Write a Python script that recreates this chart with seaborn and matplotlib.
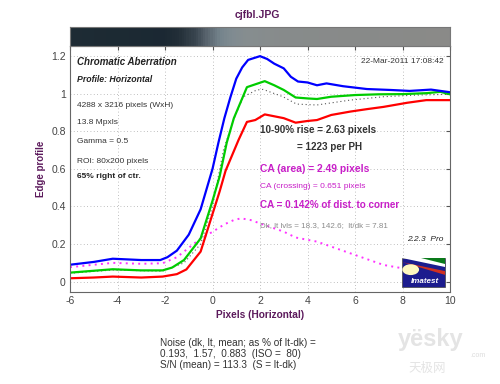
import numpy as np
import matplotlib
matplotlib.use('Agg')
import matplotlib.pyplot as plt
from matplotlib.colors import to_rgb
from matplotlib.patches import Rectangle, Polygon, Circle
import seaborn as sns

# edge profiles (pixels vs normalised level)
blue_x = [-6, -5, -4.2, -3, -2.2, -1.9, -1.5, -1.0, -0.5, 0, 0.25, 0.5, 0.75, 1.0, 1.25,
          1.5, 2.0, 2.3, 2.6, 3.0, 3.3, 3.6, 4.0, 4.4, 4.8, 5.5, 6.5, 7.5, 8.3, 9.2, 10]
blue_y = [0.09, 0.105, 0.122, 0.115, 0.115, 0.13, 0.165, 0.25, 0.385, 0.6, 0.74, 0.87, 0.98,
          1.08, 1.14, 1.18, 1.20, 1.185, 1.16, 1.135, 1.09, 1.065, 1.06, 1.045, 1.055, 1.04,
          1.025, 1.02, 1.015, 1.022, 1.008]

green_x = [-6, -5, -4.2, -3, -2.1, -1.7, -1.2, -0.5, 0, 0.3, 0.6, 0.9, 1.1, 1.45, 1.8, 2.2,
           2.6, 3.0, 3.5, 4.0, 4.4, 5.0, 6.0, 7.0, 8.0, 9.0, 9.6, 10]
green_y = [0.048, 0.058, 0.066, 0.06, 0.06, 0.075, 0.115, 0.23, 0.43, 0.56, 0.74, 0.87, 0.93,
           1.035, 1.05, 1.067, 1.045, 1.02, 0.98, 0.975, 0.972, 0.984, 0.993, 0.997, 0.998,
           1.003, 1.01, 0.997]

red_x = [-6, -5, -4.2, -3, -2.1, -1.5, -1.1, -0.5, 0, 0.3, 0.55, 0.75, 1.1, 1.45, 1.8, 2.2,
         2.6, 3.0, 3.5, 4.0, 4.4, 5.0, 5.8, 6.5, 7.2, 8.2, 9.0, 10]
red_y = [0.018, 0.022, 0.027, 0.022, 0.027, 0.04, 0.065, 0.16, 0.36, 0.48, 0.59, 0.65, 0.755,
         0.85, 0.86, 0.89, 0.88, 0.87, 0.846, 0.855, 0.86, 0.887, 0.905, 0.918, 0.93, 0.952,
         0.966, 0.966]

lum_x = [-6, -4.2, -2.1, -1.2, -0.5, 0, 0.46, 0.88, 1.3, 1.86, 2.13, 2.97, 3.54, 4.39, 5.79,
         7.19, 8.6, 10]
lum_y = [0.045, 0.062, 0.056, 0.1, 0.2, 0.4, 0.7, 0.86, 0.984, 1.02, 1.023, 0.984, 0.945,
         0.94, 0.966, 0.984, 0.993, 0.997]

ca_x = [-6, -5, -4.2, -3, -2.1, -1.5, -1.0, -0.5, 0, 0.5, 0.9, 1.2, 1.6, 2.0, 3.0, 3.5, 4.4,
        5.8, 7.2, 8.5, 9.86]
ca_y = [0.077, 0.09, 0.1, 0.095, 0.098, 0.13, 0.18, 0.23, 0.265, 0.305, 0.328, 0.337, 0.328,
        0.31, 0.266, 0.235, 0.213, 0.151, 0.089, 0.06, 0.045]

# image strip above the plot
strip_x = [-6, -4, -2, -1.4, -0.7, -0.3, 0.3, 0.8, 1.5, 3, 6, 10]
strip_c = ['#1e2b34', '#1c2a33', '#1b2833', '#232f38', '#3a4650', '#55606a', '#74838b',
           '#7f8b91', '#868d8f', '#878b8b', '#888a89', '#8a8a88']

x_ticks = [-6, -4, -2, 0, 2, 4, 6, 8, 10]
y_ticks = [0, 0.2, 0.4, 0.6, 0.8, 1.0, 1.2]
y_labels = ['0', '0.2', '0.4', '0.6', '0.8', '1', '1.2']

sns.set_theme(style='white')
plt.rcParams['font.family'] = ['Liberation Sans', 'DejaVu Sans']
plt.rcParams['axes.unicode_minus'] = False

purple = '#5c1a5c'
magenta = '#c81ec8'
txt = '#333333'

fig = plt.figure(figsize=(5, 3.84), dpi=100)
ax = fig.add_axes([0.14, 0.2396, 0.76, 0.6406])
bar = fig.add_axes([0.14, 0.8802, 0.76, 0.0495])

# strip, colours interpolated per channel along x, drawn as thin spans
edges = np.linspace(-6, 10, 161)
mids = (edges[:-1] + edges[1:]) / 2
rgb = np.array([to_rgb(c) for c in strip_c])
cols = np.stack([np.interp(mids, strip_x, rgb[:, k]) for k in range(3)], axis=-1)
for i in range(len(mids)):
    bar.axvspan(edges[i], edges[i + 1], color=tuple(cols[i]), linewidth=0)
bar.set_xlim(-6, 10)
bar.set_ylim(0, 1)
bar.set_xticks([])
bar.set_yticks([])
for s in bar.spines.values():
    s.set_color('#777777')
    s.set_linewidth(0.8)

sns.lineplot(x=lum_x, y=lum_y, ax=ax, color='#555555', linewidth=0.8, linestyle=(0, (1, 2.5)),
             estimator=None, sort=False)
sns.lineplot(x=ca_x, y=ca_y, ax=ax, color='#ff33ff', linewidth=1.4, linestyle=(0, (1, 2.2)),
             estimator=None, sort=False)
sns.lineplot(x=red_x, y=red_y, ax=ax, color='#ff0000', linewidth=1.6, estimator=None, sort=False)
sns.lineplot(x=green_x, y=green_y, ax=ax, color='#00cc00', linewidth=1.6, estimator=None, sort=False)
sns.lineplot(x=blue_x, y=blue_y, ax=ax, color='#0000ff', linewidth=1.6, estimator=None, sort=False)

ax.set_xlim(-6, 10)
ax.set_ylim(-0.055, 1.254)
ax.set_xticks(x_ticks)
ax.set_yticks(y_ticks)
ax.set_yticklabels(y_labels)
ax.tick_params(direction='in', length=3, width=0.8, colors='#555555', labelsize=7.5,
               labelcolor='#444444', top=True, right=True, pad=3)
ax.grid(True, linestyle=(0, (1, 3)), color='#aaaaaa', linewidth=0.6)
for s in ax.spines.values():
    s.set_color('#666666')
    s.set_linewidth(0.8)

ax.set_xlabel('Pixels (Horizontal)', color=purple, fontsize=7.3, fontweight='bold', labelpad=3)
ax.set_ylabel('Edge profile', color=purple, fontsize=7, fontweight='bold', labelpad=4)
fig.text(0.514, 0.962, 'cjfbl.JPG', color=purple, fontsize=7.5, fontweight='bold',
         ha='center', va='center')

T = ax.transAxes
ax.text(0.018, 0.936, 'Chromatic Aberration', transform=T, fontsize=7, fontweight='bold',
        style='italic', color='#222222', va='center')
ax.text(0.018, 0.862, 'Profile: Horizontal', transform=T, fontsize=6.3, fontweight='bold',
        style='italic', color='#222222', va='center')
ax.text(0.018, 0.76, '4288 x 3216 pixels (WxH)', transform=T, fontsize=6, color=txt, va='center')
ax.text(0.018, 0.687, '13.8 Mpxls', transform=T, fontsize=6, color=txt, va='center')
ax.text(0.018, 0.61, 'Gamma = 0.5', transform=T, fontsize=6, color=txt, va='center')
ax.text(0.018, 0.53, 'ROI: 80x200 pixels', transform=T, fontsize=6, color=txt, va='center')
ax.text(0.018, 0.468, '65% right of ctr.', transform=T, fontsize=6, fontweight='bold',
        color='#222222', va='center')
ax.text(0.982, 0.936, '22-Mar-2011 17:08:42', transform=T, fontsize=6, color=txt,
        ha='right', va='center')

ax.text(0.5, 0.658, '10-90% rise = 2.63 pixels', transform=T, fontsize=7.1, fontweight='bold',
        color='#333333', va='center')
ax.text(0.597, 0.59, '= 1223 per PH', transform=T, fontsize=7.1, fontweight='bold',
        color='#333333', va='center')
ax.text(0.5, 0.5, 'CA (area) = 2.49 pixels', transform=T, fontsize=7.4, fontweight='bold',
        color=magenta, va='center')
ax.text(0.5, 0.43, 'CA (crossing) = 0.651 pixels', transform=T, fontsize=6, color=magenta,
        va='center')
ax.text(0.5, 0.355, 'CA = 0.142% of dist. to corner', transform=T, fontsize=7.1,
        fontweight='bold', color=magenta, va='center')
ax.text(0.5, 0.272, 'Dk, lt lvls = 18.3, 142.6;  lt/dk = 7.81', transform=T, fontsize=5.8,
        color='#8a8a8a', va='center')
ax.text(0.982, 0.212, '2.2.3  Pro', transform=T, fontsize=6, style='italic',
        color='#222222', ha='right', va='center')

# Imatest logo
lx, ly, lw, lh = 0.874, 0.02, 0.113, 0.118
ax.add_patch(Rectangle((lx, ly), lw, lh, transform=T, facecolor='#1c1c8e', edgecolor='#444444',
                       linewidth=0.5, zorder=5))
ax.add_patch(Polygon([(lx, ly + lh), (lx + lw, ly + lh), (lx + lw, ly + lh * 0.7)],
                     closed=True, transform=T, facecolor='white', edgecolor='none', zorder=6))
ax.add_patch(Polygon([(lx + lw * 0.45, ly + lh), (lx + lw, ly + lh), (lx + lw, ly + lh * 0.78)],
                     closed=True, transform=T, facecolor='#0a7a1a', edgecolor='none', zorder=7))
ax.add_patch(Polygon([(lx, ly + lh * 0.86), (lx + lw, ly + lh * 0.55), (lx + lw, ly + lh * 0.42)],
                     closed=True, transform=T, facecolor='#d03020', edgecolor='none', zorder=7))
ax.add_patch(Circle((lx + lw * 0.2, ly + lh * 0.6), 0.022, transform=T, facecolor='#fff8c0',
                    edgecolor='none', zorder=8))
ax.text(lx + lw * 0.52, ly + lh * 0.2, 'Imatest', transform=T, fontsize=5.8, fontweight='bold',
        style='italic', color='white', ha='center', va='center', zorder=9)

# noise block under the plot
fig.text(0.32, 0.078, 'Noise (dk, lt, mean; as % of lt-dk) =\n0.193,  1.57,  0.883  (ISO =  80)\n'
         'S/N (mean) = 113.3  (S = lt-dk)', fontsize=7.2, color=txt, va='center',
         linespacing=1.1)

# watermark
fig.text(0.862, 0.115, 'yësky', fontsize=17, color='#e4e4e4', ha='center', va='center',
         fontweight='bold')
fig.text(0.855, 0.04, '天极网', fontsize=9, color='#e4e4e4', ha='center', va='center',
         family=['Noto Sans CJK SC', 'DejaVu Sans'])
fig.text(0.955, 0.075, '.com', fontsize=5, color='#dcdcdc', ha='center', va='center')

fig.savefig('out.png', dpi=100)
